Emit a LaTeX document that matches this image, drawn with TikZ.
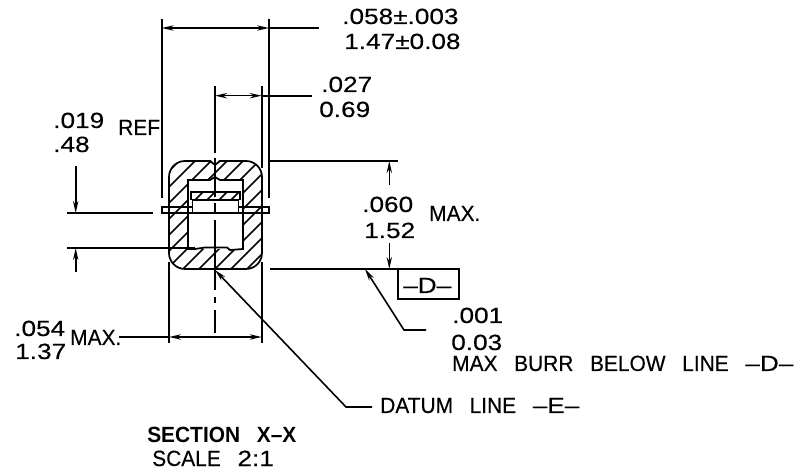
\documentclass[tikz,border=0pt]{standalone}
\usepackage{fontspec}
\setmainfont[FakeStretch=0.95,UprightFeatures={FakeBold=0.3}]{Liberation Sans}
\newfontfamily\numfont[FakeStretch=1.19,UprightFeatures={FakeBold=0.3}]{Liberation Sans}
\newcommand{\widewords}{\spaceskip=12.5pt\relax}
\usetikzlibrary{arrows.meta,positioning}
\tikzset{
    %Define standard arrow tip
    >={Stealth[length=9pt,width=4pt]},
    %Define style for drawing lines
    outline/.style={
           line width=1.3pt,
           black},
    thinline/.style={
           line width=1pt,
           black},
    %Define style for hatching
    hatchline/.style={
           line width=1.2pt,
           black},
    % Define style for center line
    centerline/.style={
           line width=1.2pt,
           dash pattern=on 50.25pt off 3.75pt on 29.25pt off 4.5pt on 7.5pt off 5.25pt on 52.5pt off 5.25pt on 4.5pt off 5.25pt on 30pt},
    % Define arrow style
    pil/.style={
           ->,
           line width=1.2pt},
    % Define style for labels
    lbl/.style={
           inner sep=0pt,
           anchor=base west,
           font=\fontsize{16.5}{18}\selectfont\widewords},
    numlbl/.style={
           lbl,
           font=\fontsize{16.5}{18}\selectfont\numfont},
}
\begin{document}
\begin{tikzpicture}[x=0.75pt,y=-0.75pt]
        \useasboundingbox (0,0) rectangle (801,474);
        %hatching
        \begin{scope}
        \clip[rounded corners=12pt] (169,161) rectangle (262,269);
        \foreach \c in {324,340,...,532}
            \draw[hatchline] (\c-300,300) -- (\c-150,150);
        \end{scope}
        \fill[white] (188,180) rectangle (243,249);
        \begin{scope}
        \clip (191,192) rectangle (240,200);
        \foreach \s in {395,407,...,455}
            \draw[hatchline] (\s-200,200) -- (\s-192,192);
        \end{scope}
        %body
        \draw[outline,rounded corners=12pt] (169,161) rectangle (262,269);
        \fill[white] (210,159) -- (215,165) -- (220,159) -- cycle;
        \draw[outline] (210,161) -- (215,165) -- (220,161);
        \fill[white] (210,181) -- (215,177) -- (220,181) -- cycle;
        \draw[outline] (188,180) -- (210,180) -- (215,177) -- (220,180) -- (243,180) -- (243,249) -- (230,250) -- (227,247.5) -- (205,247.5) -- (195,249) -- (188,249) -- cycle;
        \draw[outline] (191,200) -- (191,192) -- (240,192) -- (240,200);
        \draw[outline] (192.5,213) -- (192.5,200) -- (238.5,200) -- (238.5,213);
        \draw[thinline] (192,207) -- (162,207) -- (162,213) -- (269,213) -- (269,207) -- (239,207);
        %center line
        \coordinate (ctop) at (215,86);
        \coordinate (cbot) at (215,333);
        \draw[centerline] (ctop) -- (cbot);
        %extension lines
        \draw[outline] (161.7,19) -- (161.7,198);
        \draw[outline] (269,19) -- (269,198);
        \draw[outline] (261.7,86) -- (261.7,168);
        \draw[outline] (269,161) -- (398,161);
        \draw[outline] (270,269) -- (459,269) -- (459,299) -- (398,299) -- (398,269);
        \draw[outline] (67,213) -- (153,213);
        \draw[outline] (67,248) -- (195,248);
        \draw[outline] (169,262) -- (169,343);
        \draw[outline] (261.7,262) -- (261.7,343);
        %dimensions
        \coordinate (wl) at (161.7,28);
        \coordinate (wr) at (269,28);
        \coordinate (we) at (319,28);
        \draw[pil,<->] (wl) -- (wr);
        \draw[outline] (wr) -- (we);
        \coordinate (hl) at (215,95.7);
        \coordinate (hr) at (261.7,95.7);
        \coordinate (he) at (312,95.7);
        \draw[pil,<->] (hl) -- (hr);
        \draw[outline] (hr) -- (he);
        \coordinate (bl) at (169,337);
        \coordinate (br) at (261.7,337);
        \coordinate (be) at (119,337);
        \draw[pil,<->] (bl) -- (br);
        \draw[outline] (be) -- (bl);
        \draw[pil] (75.7,166) -- (75.7,213);
        \draw[pil] (75.7,272) -- (75.7,248);
        \draw[pil] (389.3,185) -- (389.3,161);
        \draw[pil] (389.3,243) -- (389.3,269);
        %leaders
        \draw[pil,<-] (365,269) -- (404,330) -- (426,330);
        \draw[pil,<-] (215,270) -- (346,407) -- (372,407);
        %labels
        \node[numlbl] (wtxt) at (342,24) {.058±.003};
        \node[numlbl] (wmm) at (344,49) {1.47±0.08};
        \node[numlbl] (htxt) at (321,92) {.027};
        \node[numlbl] (hmm) at (319,117) {0.69};
        \node[numlbl] (ttxt) at (53,128) {.019};
        \node[numlbl] (tmm) at (53,152) {.48};
        \node[lbl] (reftxt) at (118,135) {REF};
        \node[numlbl] (gtxt) at (362,212) {.060};
        \node[numlbl] (gmm) at (364,238) {1.52};
        \node[lbl] (maxa) at (429,221) {MAX.};
        \node[numlbl] (dtxt) at (403,293) {–D–};
        \node[numlbl] (btxt) at (452,323) {.001};
        \node[numlbl] (bmm) at (451,350) {0.03};
        \node[lbl] (burr) at (452,371) {MAX BURR BELOW LINE {\numfont –D–}};
        \node[lbl] (datum) at (380,413) {DATUM LINE {\numfont –E–}};
        \node[numlbl] (wdtxt) at (14,336) {.054};
        \node[numlbl] (wdmm) at (15,359) {1.37};
        \node[lbl] (maxb) at (70,345) {MAX.};
        \node[lbl] (sect) at (147,443) {\bfseries SECTION X–X};
        \node[lbl] (scl) at (152,466) {SCALE {\numfont 2:1}};
\end{tikzpicture}
\end{document}
